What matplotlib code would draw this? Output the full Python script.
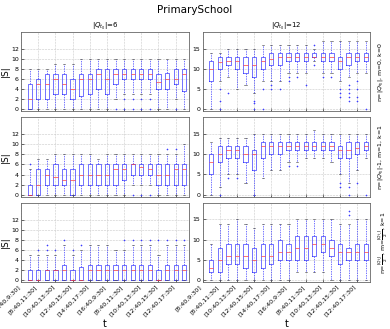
import matplotlib
matplotlib.use("Agg")
import matplotlib.pyplot as plt

# ---------------- data ----------------
tick_labels = ['[8:40,9:30]', '[8:40,11:30]', '[10:40,13:30]', '[12:40,15:30]',
               '[14:40,17:30]', '[16:40,9:30]', '[8:40,11:30]', '[10:40,13:30]',
               '[12:40,15:30]', '[12:40,17:30]']

col_titles = [r"$|Q_{t_0}|$=6", r"$|Q_{t_0}|$=12"]
row_labels = [r"n=$|Q_{t_0}|$, m=0, k=0",
              r"n=$|Q_{t_0}|$-1, m=1, k=1",
              r"n=$\frac{|Q_{t_0}|}{2}$, m=$\frac{|Q_{t_0}|}{2}$, k=1"]

# panel (row 0, |Q|=6)
p00_med = [2, 5, 5, 6, 5, 4, 6, 6, 7, 6, 7, 7, 7, 7, 7, 5.5, 6, 6, 7]
p00_q1 = [0, 2, 2, 3, 3, 2, 2.7, 3, 4, 3, 5, 6, 6, 6, 6, 4, 4, 5, 3.7]
p00_q3 = [5, 6, 7, 7, 7, 6, 7, 7, 8, 8, 8, 8, 8, 8, 8, 7, 7.2, 8, 8]
p00_lo = [0, 0, 0, 0, 0, 0, 0, 0, 0, 0, 2, 3, 3, 3, 3, 0, 0, 2, 0]
p00_hi = [8, 8, 8, 9, 9, 9, 10, 10, 10, 10, 10, 10, 10, 10, 10, 10, 10, 10, 10]
p00_fl = [[], [], [], [], [], [], [], [], [], [], [0], [0, 2], [0, 2], [0, 2], [0, 2],
          [], [], [0], []]

# panel (row 0, |Q|=12)
p01_med = [10, 11.7, 12, 12, 11, 11, 12, 12.5, 13, 13, 13, 13, 13, 13, 13, 12, 13, 13, 13]
p01_q1 = [7, 10, 11, 10, 9, 8, 10, 11, 11, 12, 12, 12, 13, 12, 12, 10, 11, 12, 12]
p01_q3 = [12, 13, 13, 13, 13, 13, 13, 14, 14, 14, 14, 14, 14, 14, 14, 13, 14, 14, 14]
p01_lo = [0, 7, 8, 5, 6, 4, 7, 7, 7, 9, 9, 9, 12, 9, 9, 7, 8, 9, 9]
p01_hi = [14, 14, 15, 15, 15, 15, 16, 16, 16, 16, 16, 16, 15, 17, 17, 17, 17, 17, 17]
p01_fl = [[], [5, 2, 0], [4], [], [], [2, 1.5, 0], [5, 0], [6, 5], [5], [8, 7],
          [8], [6], [11, 16], [8], [8], [5, 4, 3], [6, 5, 4, 3, 2], [7, 5, 3, 2], [0]]

# panel (row 1, |Q|=6)
p10_med = [0, 2, 4, 3.5, 3, 3, 4, 4, 4, 4, 5, 5, 6, 5.5, 5, 4, 4, 5, 5]
p10_q1 = [0, 0, 2, 2, 2, 0, 2, 2, 2, 2, 2, 3, 4, 4, 4, 2, 2, 2, 2]
p10_q3 = [2, 5, 5, 6, 5, 5, 6, 6, 6, 6, 6, 6, 6, 6, 6, 6, 6, 6, 6]
p10_lo = [0, 0, 0, 0, 0, 0, 0, 0, 0, 0, 0, 0, 2, 2, 2, 0, 0, 0, 0]
p10_hi = [5, 7, 7, 8, 8, 8, 8, 8, 7, 8, 8, 8, 8, 8, 8, 8, 8, 8, 10]
p10_fl = [[6], [], [], [], [], [], [], [], [], [], [], [], [0], [0], [0], [], [9], [9], []]

# panel (row 1, |Q|=12)
p11_med = [8, 10, 11, 11, 10, 10, 12, 12, 12, 12, 12, 12, 12, 12, 12, 11, 11, 11.5, 12]
p11_q1 = [5, 8, 9, 9, 8, 6, 9, 10, 10, 11, 11, 11, 11, 11, 11, 9, 9, 10, 11]
p11_q3 = [10, 12, 12, 12, 12, 11, 13, 13, 13, 13, 13, 13, 13, 13, 13, 12, 13, 13, 13]
p11_lo = [0, 2, 5, 5, 3, 0, 4, 6, 6, 8, 8, 9, 9, 9, 8, 5, 3, 6, 9]
p11_hi = [13, 14, 14, 14, 14, 15, 15, 15, 15, 15, 15, 15, 16, 15, 15, 15, 15, 15, 15]
p11_fl = [[], [0], [4], [4], [], [0], [], [], [], [7], [7], [], [], [], [], [3, 2],
          [2, 0], [3], [0]]

# panel (row 2, |Q|=6)
p20_med = [0, 0, 2, 2, 2, 0, 0, 2, 2, 2, 2, 2, 2, 2, 2, 0, 2, 2, 2]
p20_q1 = [0] * 19
p20_q3 = [2, 2, 2, 2, 3, 2, 2.5, 3, 3, 3, 3, 3, 3, 3, 3, 2, 3, 3, 3]
p20_lo = [0] * 19
p20_hi = [5, 5, 5, 5, 7, 5, 6, 7, 7, 7, 6, 6, 7, 7, 7, 5, 7, 7, 7]
p20_fl = [[], [6], [6, 7], [6], [8], [6], [7], [], [], [], [], [8], [8], [8], [8],
          [8], [8], [8], [8]]

# panel (row 2, |Q|=12)
p21_med = [3, 5, 6, 6, 6, 5, 6, 6, 7, 7, 8, 8, 9, 9, 8, 7, 7, 7, 7]
p21_q1 = [2, 2, 4, 4, 3, 2, 3, 4, 5, 5, 5, 5, 6, 7, 6, 4, 5, 5, 5]
p21_q3 = [5, 8, 9, 9, 9, 8, 9, 9, 10, 9, 11, 11, 11, 11, 10, 9, 8, 9, 9]
p21_lo = [0, 0, 0, 0, 0, 0, 0, 0, 0, 0, 2, 2, 2, 2, 0, 0, 0, 0, 0]
p21_hi = [9, 14, 14, 15, 14, 13, 14, 14, 14, 14, 15, 15, 15, 15, 15, 14, 14, 15, 15]
p21_fl = [[], [], [], [], [], [], [], [], [], [], [], [], [], [], [], [], [17, 16], [], []]

panels = [
    [(p00_med, p00_q1, p00_q3, p00_lo, p00_hi, p00_fl),
     (p01_med, p01_q1, p01_q3, p01_lo, p01_hi, p01_fl)],
    [(p10_med, p10_q1, p10_q3, p10_lo, p10_hi, p10_fl),
     (p11_med, p11_q1, p11_q3, p11_lo, p11_hi, p11_fl)],
    [(p20_med, p20_q1, p20_q3, p20_lo, p20_hi, p20_fl),
     (p21_med, p21_q1, p21_q3, p21_lo, p21_hi, p21_fl)],
]

# ---------------- figure ----------------
fig, axes = plt.subplots(3, 2, figsize=(3.9, 3.29), dpi=100)
fig.subplots_adjust(left=0.054, right=0.949, top=0.903, bottom=0.143,
                    hspace=0.075, wspace=0.084)

ylims = [(-0.4, 15.4), (-0.5, 19.2)]
yticks = [list(range(0, 13, 2)), [0, 5, 10, 15]]

for r in range(3):
    for c in range(2):
        ax = axes[r, c]
        med, q1, q3, lo, hi, fl = panels[r][c]
        stats = []
        for i in range(len(med)):
            stats.append(dict(med=med[i], q1=q1[i], q3=q3[i],
                              whislo=lo[i], whishi=hi[i], fliers=fl[i]))
        ax.bxp(stats, positions=list(range(1, len(med) + 1)), widths=0.5,
               boxprops=dict(color='#3b3bff', linewidth=0.5),
               medianprops=dict(color='#ff3b3b', linewidth=0.5),
               whiskerprops=dict(color='#3b3bff', linestyle=(0, (2, 1.5)), linewidth=0.5),
               capprops=dict(color='#333333', linewidth=0.4),
               flierprops=dict(marker='+', markeredgecolor='#3b3bff',
                               markersize=2.0, markeredgewidth=0.4, linestyle='none'))
        ax.set_xticks(list(range(0, 19, 2)))
        ax.set_xlim(0, 19.5)
        ax.set_ylim(*ylims[c])
        ax.set_yticks(yticks[c])
        ax.grid(True, color='#c8c8c8', linestyle='--', linewidth=0.4)
        ax.set_axisbelow(True)
        ax.tick_params(labelsize=4.5, length=2, width=0.4, direction='in', pad=1.5)
        for s in ax.spines.values():
            s.set_linewidth(0.6)
            s.set_color('#666666')
        if r == 2:
            ax.set_xticklabels(tick_labels, rotation=45, ha='right', fontsize=4.5)
            ax.set_xlabel('t', fontsize=7, labelpad=1)
        else:
            ax.set_xticklabels([])
        if c == 0:
            ax.set_ylabel('|S|', fontsize=6.5, labelpad=1)
        if r == 0:
            ax.set_title(col_titles[c], fontsize=5, pad=3)
        if c == 1:
            ax.text(1.04, 0.5, row_labels[r], transform=ax.transAxes, rotation=90,
                    ha='left', va='center', fontsize=4.5)

fig.suptitle('PrimarySchool', fontsize=7.5, y=0.985)
fig.savefig('out.png', dpi=100)
